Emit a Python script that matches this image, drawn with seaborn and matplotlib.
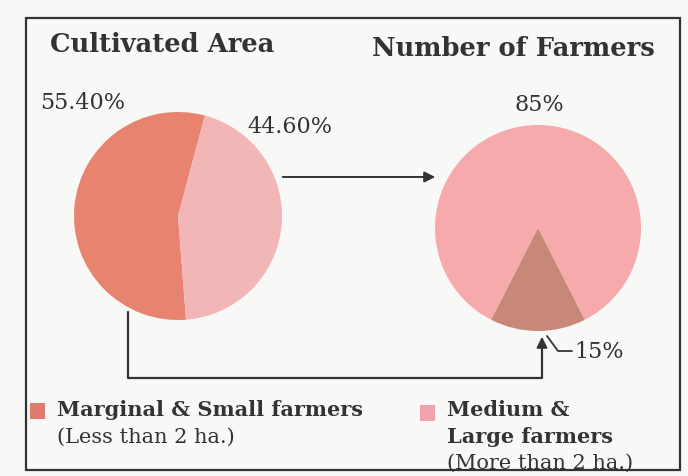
import matplotlib
matplotlib.use("Agg")
import matplotlib.pyplot as plt
import seaborn as sns
from matplotlib.patches import Rectangle

sns.set_style("white")
plt.rcParams['font.family'] = ['DejaVu Serif']

# ---- data ----
area_labels = ["Marginal & Small farmers", "Medium & Large farmers"]
area_values = [55.40, 44.60]
area_text = ["55.40%", "44.60%"]
farmer_values = [85, 15]  # medium & large (light), marginal & small (wedge)
farmer_text = ["85%", "15%"]
titles = ["Cultivated Area", "Number of Farmers"]
legend_main = ["Marginal & Small farmers", "Medium &", "Large farmers"]
legend_sub = ["(Less than 2 ha.)", "(More than 2 ha.)"]

H = 476
def Y(py):
    return H - py

fig = plt.figure(figsize=(6.88, 4.76), dpi=100)
fig.patch.set_facecolor("#f8f8f6")
ax = fig.add_axes([0, 0, 1, 1])
ax.axis("off")

# frame
ax.add_patch(Rectangle((26, Y(470)), 654, 452, fill=False, lw=1.6, ec="#333333"))

# left pie
ax.pie(area_values, center=(178, Y(216)), radius=104, startangle=75,
       colors=["#e8836f", "#f3b6b7"], wedgeprops=dict(lw=0))
# right pie
ax.pie(farmer_values, center=(538, Y(228)), radius=103, startangle=297,
       colors=["#f6aaab", "#c88878"], wedgeprops=dict(lw=0))
ax.set_xlim(0, 688)
ax.set_ylim(0, 476)
ax.set_aspect("equal")
ax.axis("off")

tc = "#333333"
# titles
ax.text(50, Y(45), titles[0], fontsize=18.5, fontweight="bold", va="center", ha="left", color=tc)
ax.text(372, Y(49), titles[1], fontsize=18.5, fontweight="bold", va="center", ha="left", color=tc)

# percentages
ax.text(40, Y(103), area_text[0], fontsize=16, va="center", ha="left", color=tc)
ax.text(247, Y(127), area_text[1], fontsize=16, va="center", ha="left", color=tc)
ax.text(515, Y(105), farmer_text[0], fontsize=16, va="center", ha="left", color=tc)
ax.text(574, Y(352), farmer_text[1], fontsize=16, va="center", ha="left", color=tc)
ax.plot([547, 558, 572], [Y(336), Y(351), Y(351)], color=tc, lw=1.3)

# arrows
ax.annotate("", xy=(438, Y(177)), xytext=(280, Y(177)),
            arrowprops=dict(arrowstyle="-|>", color=tc, lw=1.4, mutation_scale=16))
ax.plot([128, 128, 542, 542], [Y(312), Y(378), Y(378), Y(350)], color=tc, lw=1.6)
ax.annotate("", xy=(542, Y(334)), xytext=(542, Y(352)),
            arrowprops=dict(arrowstyle="-|>", color=tc, lw=1.4, mutation_scale=16))

# legend
ax.add_patch(Rectangle((30, Y(419)), 15, 16, color="#e07a6e", lw=0))
ax.text(57, Y(410), legend_main[0], fontsize=15, fontweight="bold", va="center", ha="left", color=tc)
ax.text(57, Y(437), legend_sub[0], fontsize=15, va="center", ha="left", color=tc)
ax.add_patch(Rectangle((420, Y(421)), 15, 16, color="#f0a3aa", lw=0))
ax.text(447, Y(410), legend_main[1], fontsize=15, fontweight="bold", va="center", ha="left", color=tc)
ax.text(447, Y(437), legend_main[2], fontsize=15, fontweight="bold", va="center", ha="left", color=tc)
ax.text(447, Y(463), legend_sub[1], fontsize=15, va="center", ha="left", color=tc)

fig.savefig("out.png", dpi=100, facecolor=fig.get_facecolor())
